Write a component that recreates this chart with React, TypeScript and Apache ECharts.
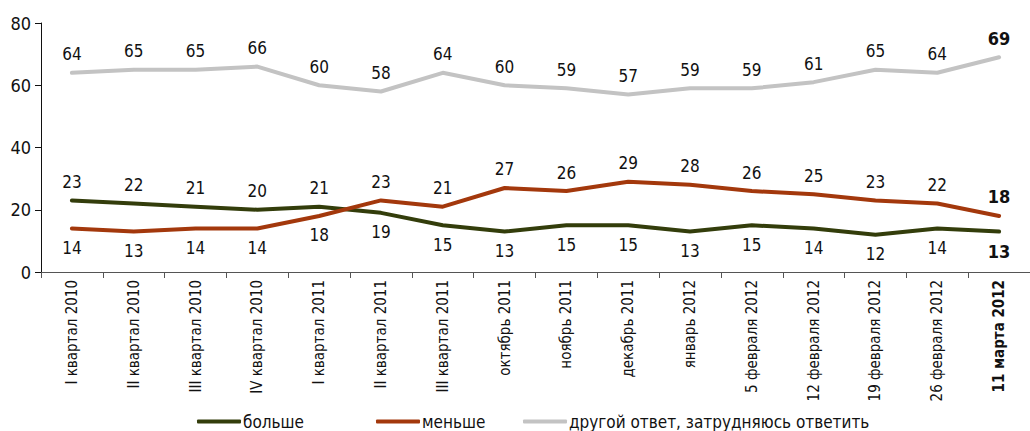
import React, { useEffect, useRef } from "react";
import * as echarts from "echarts";

const categories = [
  "I квартал 2010",
  "II квартал 2010",
  "III квартал 2010",
  "IV квартал 2010",
  "I квартал 2011",
  "II квартал 2011",
  "III квартал 2011",
  "октябрь 2011",
  "ноябрь 2011",
  "декабрь 2011",
  "январь 2012",
  "5 февраля 2012",
  "12 февраля 2012",
  "19 февраля 2012",
  "26 февраля 2012",
  "11 марта 2012",
];
const seriesNames = ["больше", "меньше", "другой ответ, затрудняюсь ответить"];
const more = [23, 22, 21, 20, 21, 19, 15, 13, 15, 15, 13, 15, 14, 12, 14, 13];
const less = [14, 13, 14, 14, 18, 23, 21, 27, 26, 29, 28, 26, 25, 23, 22, 18];
const other = [64, 65, 65, 66, 60, 58, 64, 60, 59, 57, 59, 59, 61, 65, 64, 69];
const yTicks = [0, 20, 40, 60, 80];

const FONT = "'Liberation Sans Narrow', 'DejaVu Sans Condensed', 'Noto Sans', sans-serif";

function makeData(values: number[], posFn: (i: number) => "top" | "bottom") {
  const last = values.length - 1;
  return values.map((v, i) => ({
    value: v,
    label: {
      show: true,
      position: posFn(i),
      fontWeight: i === last ? "bold" : "normal",
      fontSize: i === last ? 18 : 17,
      distance: posFn(i) === "top" ? 9 : 10,
    },
  }));
}

export default function App() {
  const ref = useRef<HTMLDivElement>(null);
  useEffect(() => {
    if (!ref.current) return;
    const chart = echarts.init(ref.current, null, { renderer: "svg" });
    const labelBase = {
      show: true,
      color: "#111",
      fontFamily: FONT,
      fontSize: 17,
    };
    const legendCommon = {
      bottom: -4,
      itemWidth: 44,
      itemHeight: 4,
      icon: "roundRect",
      textStyle: { fontFamily: FONT, fontSize: 17, color: "#111", padding: [0, 0, 0, -3] },
    };
    const colors = ["#333d0b", "#a3380c", "#c3c3c3"];
    const mk = (idx: number, data: any[]) => ({
      name: seriesNames[idx],
      type: "line",
      symbol: "circle",
      symbolSize: 2,
      showSymbol: true,
      showAllSymbol: true,
      lineStyle: { color: colors[idx], width: 4, cap: "round", join: "round" },
      itemStyle: { color: colors[idx] },
      label: labelBase,
      labelLayout: { hideOverlap: false },
      data,
    });
    chart.setOption({
      animation: false,
      textStyle: { fontFamily: FONT },
      grid: { left: 41, width: 996, top: 23, height: 249 },
      legend: [
        { ...legendCommon, left: 192, data: [seriesNames[0]] },
        { ...legendCommon, left: 371, data: [seriesNames[1]] },
        { ...legendCommon, left: 518, data: [seriesNames[2]] },
      ],
      xAxis: {
        type: "category",
        data: categories,
        boundaryGap: true,
        axisLine: { lineStyle: { color: "#555", width: 1 } },
        axisTick: { show: true, length: 6, lineStyle: { color: "#555" } },
        axisLabel: {
          rotate: 90,
          interval: 0,
          fontFamily: FONT,
          fontSize: 15,
          color: "#111",
          margin: 8,
          formatter: (v: string, i: number) => (i === categories.length - 1 ? `{b|${v}}` : v),
          rich: { b: { fontWeight: "bold", fontFamily: FONT, fontSize: 15, color: "#111" } },
        },
      },
      yAxis: {
        type: "value",
        min: yTicks[0],
        max: yTicks[yTicks.length - 1],
        interval: 20,
        splitLine: { show: false },
        axisLine: { show: true, lineStyle: { color: "#111" } },
        axisTick: { show: true, length: 6, lineStyle: { color: "#111" } },
        axisLabel: { fontFamily: FONT, fontSize: 18, color: "#111", margin: 10 },
      },
      series: [
        mk(0, makeData(more, (i) => (i < 5 ? "top" : "bottom"))),
        mk(1, makeData(less, (i) => (i < 5 ? "bottom" : "top"))),
        mk(2, makeData(other, () => "top")),
      ],
    });
    return () => chart.dispose();
  }, []);
  return (
    <div
      ref={ref}
      style={{ position: "absolute", left: 0, top: 0, width: 1030, height: 431, background: "#fff", overflow: "hidden" }}
    />
  );
}
